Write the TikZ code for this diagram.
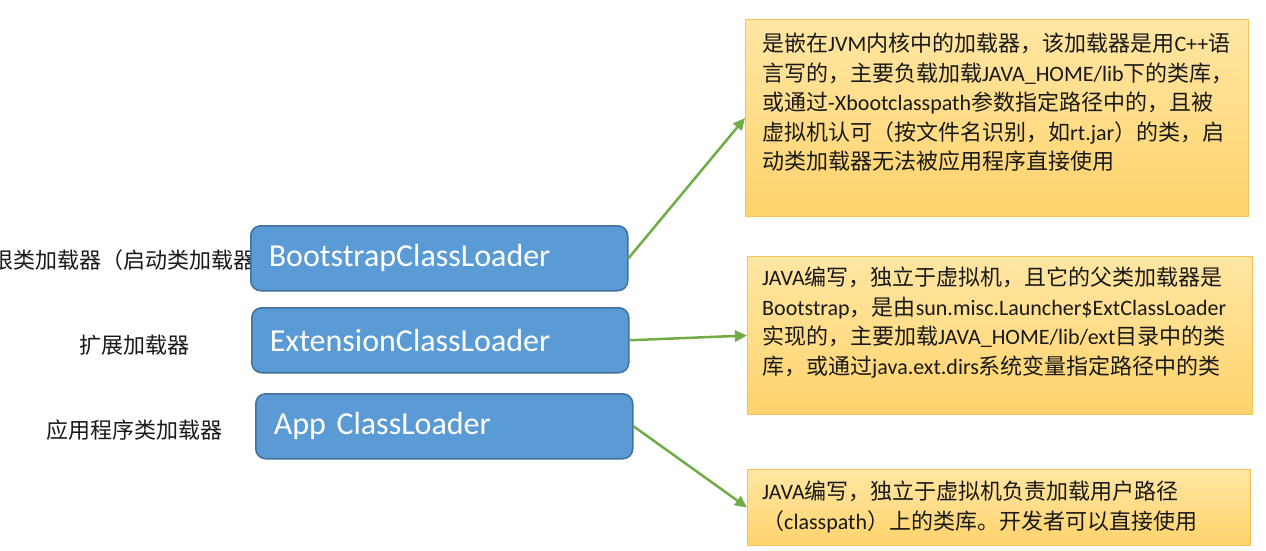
\documentclass[tikz,border=0pt]{standalone}
\usepackage{fontspec}
\setmainfont{Carlito}
\newfontfamily\cjkfont{Noto Sans CJK SC}
\newcommand\zhx[1]{{\cjkfont #1}}
\usetikzlibrary{arrows.meta}
\definecolor{bluefill}{HTML}{5B9BD5}
\definecolor{blueline}{HTML}{41719C}
\definecolor{ytop}{HTML}{FFE6A3}
\definecolor{ybot}{HTML}{FFD36C}
\definecolor{yline}{HTML}{F5C258}
\definecolor{arrowgreen}{HTML}{70AD47}
\begin{document}
\begin{tikzpicture}[x=1pt,y=-1pt,
 bluebox/.style={draw=blueline, line width=1.5pt, fill=bluefill, rounded corners=10pt,
   minimum width=377pt, minimum height=65pt, text width=341pt, inner xsep=18pt, inner ysep=0pt,
   align=left, text=white, font=\fontsize{32}{38}\selectfont, anchor=north west},
 notebox/.style={draw=yline, line width=1pt, top color=ytop, bottom color=ybot, anchor=north west, inner sep=0pt},
 notetext/.style={anchor=north west, inner sep=0pt, align=left, font=\fontsize{22}{29.5}\selectfont, text=black!90},
 sidelabel/.style={anchor=west, inner sep=0pt, font=\fontsize{22}{26}\selectfont\cjkfont, text=black!90},
 link/.style={draw=arrowgreen, line width=2.5pt, -{Triangle[length=12pt,width=11pt]}}]
\useasboundingbox (0,0) rectangle (1266,550);
\clip (0,0) rectangle (1266,550);
\fill[white] (0,0) rectangle (1266,550);
% side labels
\node[sidelabel] (l1) at (-9,260) {根类加载器（启动类加载器};
\node[sidelabel] (l2) at (79,345) {扩展加载器};
\node[sidelabel] (l3) at (46,430) {应用程序类加载器};
% blue boxes
\node[bluebox] (bs) at (250,225) {BootstrapClassLoader};
\node[bluebox] (ext) at (251,307) {ExtensionClassLoader};
\node[bluebox] (app) at (255,393) {App ClassLoader};
% note boxes
\node[notebox, minimum width=503pt, minimum height=197pt] (y1) at (745,19) {};
\node[notebox, minimum width=505pt, minimum height=158pt] (y2) at (747,256) {};
\node[notebox, minimum width=503pt, minimum height=76pt] (y3) at (747,469) {};
% arrows
\draw[link] (bs.east) -- (y1.west);
\draw[link] (ext.east) -- (y2.west);
\draw[link] (app.east) -- (y3.west);
% note texts
\node[notetext] (t1) at (762,33) {\zhx{是嵌在}JVM\zhx{内核中的加载器，该加载器是用}C++\zhx{语}\\
\zhx{言写的，主要负载加载}JAVA\_HOME/lib\zhx{下的类库，}\\
\zhx{或通过}-Xbootclasspath\zhx{参数指定路径中的，且被}\\
\zhx{虚拟机认可（按文件名识别，如}rt.jar\zhx{）的类，启}\\
\zhx{动类加载器无法被应用程序直接使用}};
\node[notetext] (t2) at (762,267) {JAVA\zhx{编写，独立于虚拟机，且它的父类加载器是}\\
Bootstrap\zhx{，是由}sun.misc.Launcher\$ExtClassLoader\\
\zhx{实现的，主要加载}JAVA\_HOME/lib/ext\zhx{目录中的类}\\
\zhx{库，或通过}java.ext.dirs\zhx{系统变量指定路径中的类}};
\node[notetext] (t3) at (762,481) {JAVA\zhx{编写，独立于虚拟机负责加载用户路径}\\
\zhx{（}classpath\zhx{）上的类库。开发者可以直接使用}};
\end{tikzpicture}
\end{document}
